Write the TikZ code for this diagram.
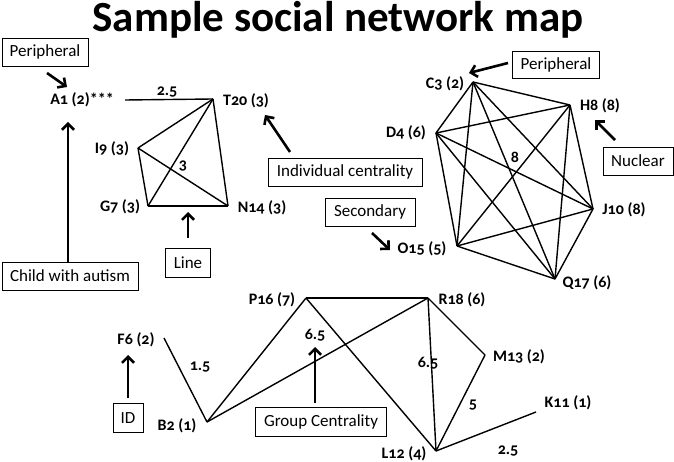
\documentclass[tikz,border=0pt]{standalone}
\usepackage{fontspec}
\setmainfont{Carlito}
\newfontfamily\labfont[Numbers=OldStyle]{Carlito}
\usetikzlibrary{arrows.meta}
\begin{document}
\begin{tikzpicture}[x=1pt,y=-1pt,
  edge/.style={line width=1.4pt},
  lab/.style={font=\labfont\bfseries\fontsize{16}{18}\selectfont, inner sep=0pt},
  box/.style={draw, line width=0.9pt, font=\fontsize{17}{19}\selectfont, inner sep=0pt, minimum height=28pt},
  arr/.style={line width=2.6pt, -{Straight Barb[length=6pt,width=12pt]}}]
\fill[white] (0,0) rectangle (674,462);
\useasboundingbox (0,0) rectangle (674,462);

% title
\node[anchor=base, font=\bfseries\fontsize{43}{47}\selectfont, inner sep=0pt] (title) at (338,32) {Sample social network map};

% ---------- top-left cluster ----------
\coordinate (a1) at (125,100);
\coordinate (t20) at (213,99);
\coordinate (i9) at (138,148);
\coordinate (g7) at (148,206);
\coordinate (n14) at (228,206);
\node[lab] (la1) at (82,100) {A1 (2)***};
\node[lab] (lt20) at (246,101) {T20 (3)};
\node[lab] (li9) at (112,149) {I9 (3)};
\node[lab] (lg7) at (120,207) {G7 (3)};
\node[lab] (ln14) at (262,208) {N14 (3)};
\node[lab] (w25a) at (167,92) {2.5};
\node[lab] (w3) at (183,166) {3};
\draw[edge] (a1) -- (t20);
\draw[edge] (t20) -- (i9);
\draw[edge] (t20) -- (g7);
\draw[edge] (t20) -- (n14);
\draw[edge] (i9) -- (g7);
\draw[edge] (i9) -- (n14);
\draw[edge] (g7) -- (n14);

% ---------- top-right cluster ----------
\coordinate (c3) at (473,82);
\coordinate (h8) at (570,105);
\coordinate (d4) at (436,133);
\coordinate (j10) at (593,209);
\coordinate (o15) at (457,246);
\coordinate (q17) at (555,279);
\node[lab] (lc3) at (445,84) {C3 (2)};
\node[lab] (lh8) at (600,106) {H8 (8)};
\node[lab] (ld4) at (406,133) {D4 (6)};
\node[lab] (lj10) at (624,210) {J10 (8)};
\node[lab] (lo15) at (422,249) {O15 (5)};
\node[lab] (lq17) at (587,283) {Q17 (6)};
\node[lab] (w8) at (515,157) {8};
\foreach \u/\v in {c3/h8,c3/d4,c3/j10,c3/o15,c3/q17,h8/d4,h8/j10,h8/o15,h8/q17,d4/j10,d4/o15,d4/q17,j10/o15,j10/q17,o15/q17}
  \draw[edge] (\u) -- (\v);

% ---------- bottom cluster ----------
\coordinate (f6) at (164,338);
\coordinate (b2) at (207,422);
\coordinate (p16) at (306,298);
\coordinate (r18) at (428,298);
\coordinate (m13) at (485,355);
\coordinate (l12) at (436,451);
\coordinate (k11) at (536,412);
\node[lab] (lf6) at (136,340) {F6 (2)};
\node[lab] (lb2) at (177,426) {B2 (1)};
\node[lab] (lp16) at (272,300) {P16 (7)};
\node[lab] (lr18) at (462,300) {R18 (6)};
\node[lab] (lm13) at (519,357) {M13 (2)};
\node[lab] (lk11) at (568,403) {K11 (1)};
\node[lab] (ll12) at (404,454) {L12 (4)};
\node[lab] (w15) at (200,367) {1.5};
\node[lab] (w65a) at (315,335) {6.5};
\node[lab] (w65b) at (428,363) {6.5};
\node[lab] (w5) at (473,405) {5};
\node[lab] (w25b) at (508,451) {2.5};
\draw[edge] (f6) -- (b2);
\draw[edge] (b2) -- (p16);
\draw[edge] (b2) -- (r18);
\draw[edge] (p16) -- (r18);
\draw[edge] (p16) -- (l12);
\draw[edge] (r18) -- (l12);
\draw[edge] (r18) -- (m13);
\draw[edge] (m13) -- (l12);
\draw[edge] (l12) -- (k11);

% ---------- boxes ----------
\node[box, minimum width=86pt] (per1) at (45,52) {Peripheral};
\node[box, minimum width=136pt] (child) at (70,276) {Child with autism};
\node[box, minimum width=45pt, minimum height=29pt] (line) at (188,263) {Line};
\node[box, minimum width=154pt] (indiv) at (345,172) {Individual centrality};
\node[box, minimum width=87pt, minimum height=27pt] (per2) at (556,65) {Peripheral};
\node[box, minimum width=70pt] (nuc) at (638,161) {Nuclear};
\node[box, minimum width=90pt] (sec) at (370,212) {Secondary};
\node[box, minimum width=30pt, minimum height=29pt] (id) at (128,418) {ID};
\node[box, minimum width=131pt, minimum height=29pt] (group) at (321,422) {Group Centrality};

% ---------- arrows ----------
\coordinate (s1) at (47,73);   \coordinate (e1) at (67,87);
\coordinate (e2) at (68,122);
\coordinate (s3) at (188,238); \coordinate (e3) at (188,212);
\coordinate (s4) at (290,152); \coordinate (e4) at (265,115);
\coordinate (s5) at (508,63);  \coordinate (e5) at (469,73);
\coordinate (s6) at (615,140); \coordinate (e6) at (595,120);
\coordinate (s7) at (372,233); \coordinate (e7) at (390,250);
\coordinate (s8) at (128,398); \coordinate (e8) at (128,355);
\coordinate (s9) at (315,403); \coordinate (e9) at (315,347);
\draw[arr] (s1) -- (e1);
\draw[arr] (child.north -| e2) -- (e2);
\draw[arr] (s3) -- (e3);
\draw[arr] (s4) -- (e4);
\draw[arr] (s5) -- (e5);
\draw[arr] (s6) -- (e6);
\draw[arr] (s7) -- (e7);
\draw[arr] (s8) -- (e8);
\draw[arr] (s9) -- (e9);
\end{tikzpicture}
\end{document}
